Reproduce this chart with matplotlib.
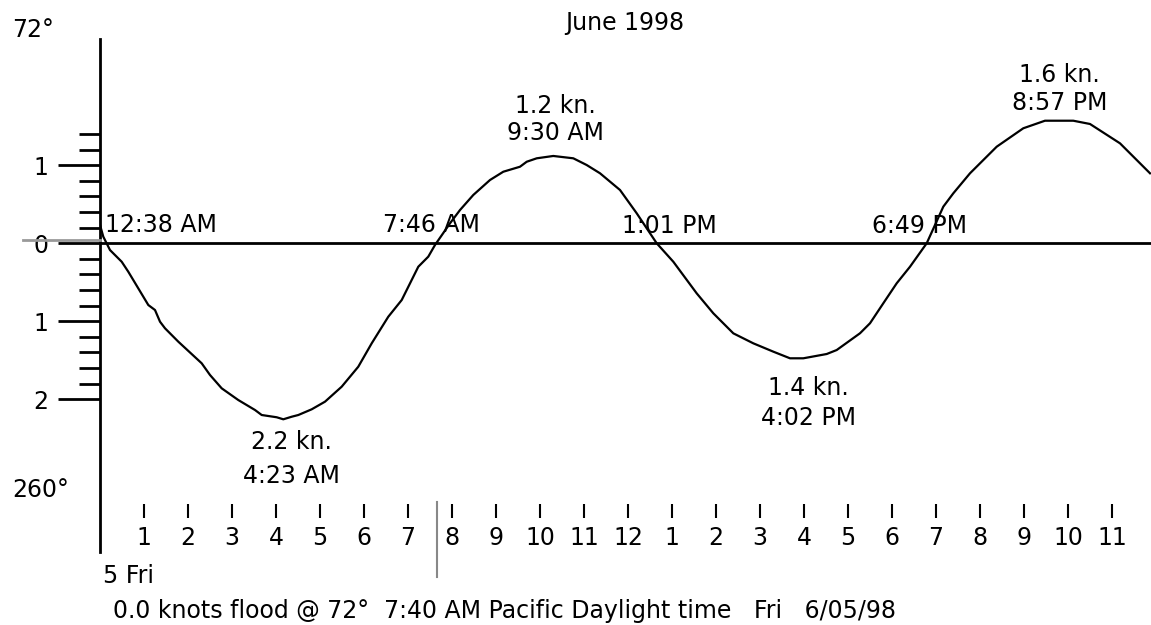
import matplotlib
matplotlib.use("Agg")
import matplotlib.pyplot as plt
from matplotlib.ticker import FixedLocator, FixedFormatter

# tidal current, hours after midnight Fri 6/05/98 vs knots (flood +, ebb -)
hours = [0.00, 0.075, 0.227, 0.493, 0.643, 0.870, 1.098, 1.25, 1.364, 1.477, 1.780,
         2.311, 2.50, 2.766, 3.143, 3.523, 3.675, 4.016, 4.166, 4.357, 4.507, 4.811,
         5.114, 5.493, 5.870, 6.175, 6.552, 6.857, 7.234, 7.461, 7.614, 7.955,
         8.182, 8.484, 8.864, 9.166, 9.545, 9.698, 9.925, 10.302, 10.757, 11.061,
         11.364, 11.818, 12.198, 12.652, 13.030, 13.561, 13.939, 14.394, 14.848,
         15.303, 15.682, 15.984, 16.516, 16.743, 17.273, 17.5, 17.802, 18.107,
         18.409, 18.789, 19.166, 19.393, 19.773, 20.380, 20.984, 21.477, 22.120,
         22.5, 23.182, 23.864]
knots = [0.234, 0.084, -0.087, -0.237, -0.365, -0.578, -0.792, -0.856, -1.006, -1.090, -1.262,
         -1.539, -1.689, -1.860, -2.010, -2.138, -2.202, -2.231, -2.257, -2.224, -2.202, -2.129,
         -2.031, -1.839, -1.583, -1.283, -0.942, -0.728, -0.301, -0.172, -0.022, 0.256,
         0.426, 0.619, 0.811, 0.917, 0.981, 1.045, 1.089, 1.119, 1.089, 1.003,
         0.897, 0.683, 0.384, 0.000, -0.237, -0.642, -0.898, -1.155, -1.283,
         -1.390, -1.475, -1.475, -1.420, -1.369, -1.154, -1.026, -0.770, -0.513,
         -0.301, 0.000, 0.469, 0.640, 0.897, 1.238, 1.474, 1.571, 1.571,
         1.529, 1.281, 0.897]

hour_ticks = list(range(1, 24))
hour_labels = [str((h - 1) % 12 + 1) for h in hour_ticks]

knot_ticks = [1, 0, -1, -2]
knot_labels = ["1", "0", "1", "2"]
knot_minor = [1.4, 1.2, 0.8, 0.6, 0.4, 0.2, -0.2, -0.4, -0.6, -0.8,
              -1.2, -1.4, -1.6, -1.8]

# slack times (x, baseline y, text, alignment)
slack = [(0.11, 0.144, "12:38 AM", "left"),
         (7.53, 0.144, "7:46 AM", "center"),
         (12.95, 0.131, "1:01 PM", "center"),
         (18.63, 0.131, "6:49 PM", "center")]
# max flood / ebb
peaks = [(4.34, -2.638, -3.074, "2.2 kn.", "4:23 AM"),
         (10.36, 1.670, 1.324, "1.2 kn.", "9:30 AM"),
         (16.11, -1.946, -2.330, "1.4 kn.", "4:02 PM"),
         (21.81, 2.067, 1.708, "1.6 kn.", "8:57 PM")]
now_hour = 7 + 40 / 60

W, H = 1151, 625
plt.rcParams["font.family"] = "DejaVu Sans"
plt.rcParams["font.size"] = 17

fig = plt.figure(figsize=(W / 100, H / 100), dpi=100)
ax = fig.add_axes([100 / W, 1 - 552 / H, 1 - 100 / W, (552 - 39) / H])
ax.set_xlim(0, (W - 100) / 44)
ax.set_ylim((243.25 - 552) / 78, (243.25 - 39) / 78)

ax.plot(hours, knots, color="black", lw=1.6, zorder=3)
ax.axhline(0, color="black", lw=2)

for s in ["top", "right"]:
    ax.spines[s].set_visible(False)
ax.spines["left"].set_linewidth(2)
ax.spines["bottom"].set_position(("data", (243.25 - 518) / 78))
ax.spines["bottom"].set_visible(False)

ax.yaxis.set_major_locator(FixedLocator(knot_ticks))
ax.yaxis.set_major_formatter(FixedFormatter(knot_labels))
ax.yaxis.set_minor_locator(FixedLocator(knot_minor))
ax.tick_params(axis="y", which="major", length=30, width=2, pad=7, labelsize=17)
ax.tick_params(axis="y", which="minor", length=15, width=2)

ax.set_xticks(hour_ticks)
ax.set_xticklabels(hour_labels)
ax.tick_params(axis="x", direction="in", length=10, width=1.5, pad=6, labelsize=17)

for x, y, t, ha in slack:
    ax.text(x, y, t, ha=ha, va="baseline")
for x, y1, y2, t1, t2 in peaks:
    ax.text(x, y1, t1, ha="center", va="baseline")
    ax.text(x, y2, t2, ha="center", va="baseline")

# current time marker and flood direction bar
ax.plot([now_hour, now_hour], [(243.25 - 502) / 78, (243.25 - 577) / 78],
        color="#888888", lw=1.5, clip_on=False)
ax.plot([-77 / 44, 0], [0.042, 0.042], color="#999999", lw=2, clip_on=False, zorder=5)

fig.text(12 / W, 1 - 37 / H, "72°", va="baseline")
fig.text(12 / W, 1 - 497 / H, "260°", va="baseline")
fig.text(625 / W, 1 - 30 / H, "June 1998", ha="center", va="baseline")
fig.text(103 / W, 1 - 583 / H, "5 Fri", va="baseline")
fig.text(113 / W, 1 - 618 / H,
         "0.0 knots flood @ 72°  7:40 AM Pacific Daylight time   Fri   6/05/98",
         va="baseline")

fig.savefig("out.png", dpi=100)
